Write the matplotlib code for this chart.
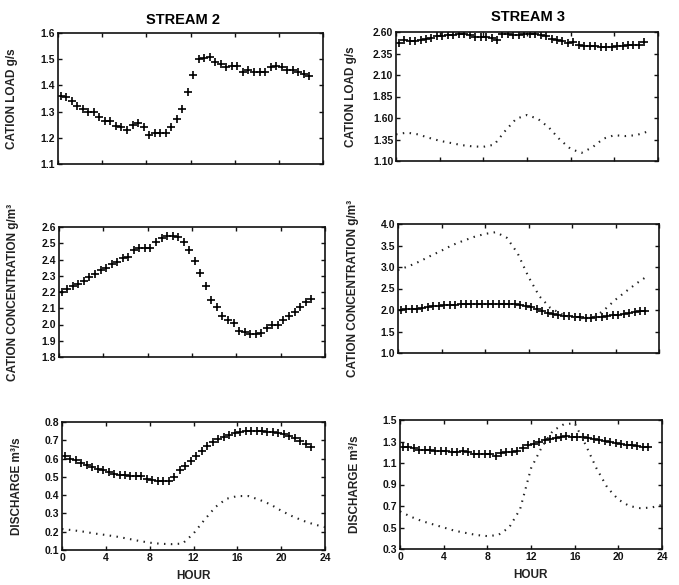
import numpy as np
import matplotlib
matplotlib.use("Agg")
import matplotlib.pyplot as plt

plt.rcParams['font.family'] = ['Liberation Sans', 'DejaVu Sans']

# half-hourly samples (+ markers) and hourly model curves (dotted)
hours = np.arange(0.25, 23, 0.5)
hours_day = np.arange(0, 24)
hours_full = np.arange(0, 25)

s2_load = [1.36, 1.355, 1.34, 1.32, 1.31, 1.30, 1.30, 1.28, 1.265, 1.265,
           1.245, 1.24, 1.23, 1.25, 1.255, 1.24, 1.21, 1.22, 1.22, 1.22,
           1.24, 1.27, 1.31, 1.375, 1.44, 1.50, 1.505, 1.51, 1.49, 1.48,
           1.47, 1.475, 1.475, 1.45, 1.46, 1.45, 1.45, 1.45, 1.47, 1.475,
           1.47, 1.46, 1.46, 1.45, 1.445, 1.435]

s2_conc = [2.20, 2.22, 2.235, 2.25, 2.27, 2.29, 2.31, 2.335, 2.35, 2.37,
           2.385, 2.41, 2.415, 2.457, 2.47, 2.47, 2.47, 2.51, 2.535, 2.545,
           2.545, 2.54, 2.51, 2.46, 2.39, 2.315, 2.24, 2.15, 2.11, 2.05,
           2.03, 2.01, 1.96, 1.955, 1.94, 1.94, 1.95, 1.98, 2.00, 2.00,
           2.025, 2.055, 2.08, 2.105, 2.14, 2.16]

s2_q = [0.613, 0.60, 0.59, 0.575, 0.565, 0.555, 0.545, 0.535, 0.525, 0.518,
        0.512, 0.508, 0.507, 0.507, 0.505, 0.49, 0.482, 0.48, 0.48, 0.48,
        0.50, 0.535, 0.56, 0.585, 0.615, 0.64, 0.668, 0.69, 0.705, 0.72,
        0.73, 0.74, 0.748, 0.75, 0.75, 0.75, 0.75, 0.745, 0.745, 0.74,
        0.735, 0.725, 0.71, 0.695, 0.68, 0.665]
s2_q_model = [0.215, 0.208, 0.20, 0.19, 0.182, 0.173, 0.162, 0.15, 0.14, 0.134,
              0.132, 0.135, 0.19, 0.265, 0.335, 0.38, 0.395, 0.395, 0.375, 0.35,
              0.315, 0.285, 0.26, 0.24, 0.225]

s3_load = [2.47, 2.51, 2.50, 2.50, 2.51, 2.52, 2.53, 2.55, 2.55, 2.56,
           2.57, 2.58, 2.58, 2.57, 2.54, 2.54, 2.54, 2.53, 2.51, 2.58,
           2.58, 2.57, 2.57, 2.58, 2.58, 2.58, 2.57, 2.55, 2.52, 2.51,
           2.49, 2.47, 2.48, 2.45, 2.44, 2.44, 2.44, 2.43, 2.43, 2.43,
           2.44, 2.44, 2.45, 2.45, 2.45, 2.48]
s3_load_model = [1.41, 1.43, 1.41, 1.37, 1.335, 1.31, 1.285, 1.27, 1.265, 1.29,
                 1.45, 1.59, 1.635, 1.59, 1.49, 1.35, 1.24, 1.195, 1.26, 1.36,
                 1.40, 1.39, 1.40, 1.44]

s3_conc = [2.00, 2.02, 2.02, 2.03, 2.04, 2.06, 2.09, 2.10, 2.11, 2.11,
           2.12, 2.13, 2.14, 2.14, 2.15, 2.15, 2.15, 2.15, 2.15, 2.15,
           2.14, 2.13, 2.11, 2.09, 2.06, 2.02, 1.98, 1.94, 1.91, 1.88,
           1.87, 1.86, 1.84, 1.83, 1.82, 1.82, 1.83, 1.84, 1.86, 1.88,
           1.89, 1.90, 1.92, 1.95, 1.97, 1.98]
s3_conc_model = [2.93, 3.02, 3.13, 3.26, 3.38, 3.51, 3.61, 3.70, 3.77, 3.81,
                 3.68, 3.32, 2.77, 2.32, 2.05, 1.91, 1.82, 1.81, 1.82, 2.01,
                 2.24, 2.44, 2.63, 2.80]

s3_q = [1.245, 1.25, 1.235, 1.225, 1.22, 1.22, 1.215, 1.21, 1.21, 1.205,
        1.20, 1.21, 1.20, 1.185, 1.185, 1.185, 1.18, 1.165, 1.195, 1.20,
        1.20, 1.21, 1.24, 1.265, 1.28, 1.295, 1.31, 1.325, 1.335, 1.345,
        1.35, 1.345, 1.345, 1.34, 1.335, 1.325, 1.315, 1.305, 1.30, 1.29,
        1.28, 1.27, 1.265, 1.26, 1.25, 1.25]
s3_q_model = [0.65, 0.60, 0.56, 0.53, 0.50, 0.47, 0.45, 0.43, 0.42, 0.43,
              0.50, 0.67, 1.05, 1.25, 1.40, 1.46, 1.47, 1.27, 1.05, 0.87,
              0.76, 0.70, 0.68, 0.685, 0.71]

fig = plt.figure(figsize=(6.79, 5.85), dpi=100)

W, H = 679.0, 585.0


def make_axes(l, r, t, b):
    return fig.add_axes([l / W, 1 - b / H, (r - l) / W, (b - t) / H])


ax_tl = make_axes(58, 323, 33, 164)
ax_tr = make_axes(396, 658, 32, 161)
ax_ml = make_axes(59, 325, 227, 357)
ax_mr = make_axes(398, 659, 224, 353)
ax_bl = make_axes(62, 325, 422, 550)
ax_br = make_axes(400, 662, 420, 549)

plus = dict(linestyle='none', marker='+', color='black', markersize=5.5, markeredgewidth=1.2)
dots = dict(color='#222222', linewidth=1.5, linestyle=(0, (0.7, 2.6)))

ax_tl.plot(hours, s2_load, **plus)
ax_ml.plot(hours, s2_conc, **plus)
ax_bl.plot(hours, s2_q, **plus)
ax_bl.plot(hours_full, s2_q_model, **dots)

ax_tr.plot(hours, s3_load, **plus)
ax_tr.plot(hours_day, s3_load_model, **dots)
ax_mr.plot(hours, s3_conc, **plus)
ax_mr.plot(hours_day, s3_conc_model, **dots)
ax_br.plot(hours, s3_q, **plus)
ax_br.plot(hours_full, s3_q_model, **dots)

ylims = {
    ax_tl: (1.1, 1.6, [1.1, 1.2, 1.3, 1.4, 1.5, 1.6], '%.1f'),
    ax_tr: (1.1, 2.6, [1.10, 1.35, 1.60, 1.85, 2.10, 2.35, 2.60], '%.2f'),
    ax_ml: (1.8, 2.6, [1.8, 1.9, 2.0, 2.1, 2.2, 2.3, 2.4, 2.5, 2.6], '%.1f'),
    ax_mr: (1.0, 4.0, [1.0, 1.5, 2.0, 2.5, 3.0, 3.5, 4.0], '%.1f'),
    ax_bl: (0.1, 0.8, [0.1, 0.2, 0.3, 0.4, 0.5, 0.6, 0.7, 0.8], '%.1f'),
    ax_br: (0.3, 1.5, [0.3, 0.5, 0.7, 0.9, 1.1, 1.3, 1.5], '%.1f'),
}

for ax, (lo, hi, ticks, fmt) in ylims.items():
    ax.set_xlim(0, 24)
    ax.set_ylim(lo, hi)
    ax.set_yticks(ticks)
    ax.set_yticklabels([fmt % v for v in ticks], fontweight='bold')
    ax.set_xticks([0, 4, 8, 12, 16, 20, 24])
    ax.set_xticklabels(['0', '4', '8', '12', '16', '20', '24'], fontweight='bold')
    ax.tick_params(direction='in', top=True, right=True, length=3, width=1,
                   labelsize=7.5, pad=2, colors='#111111')
    for s in ax.spines.values():
        s.set_linewidth(1.2)
        s.set_color('#111111')
    ax.yaxis.set_label_coords(-0.15, 0.5)

for ax in (ax_tl, ax_tr, ax_ml, ax_mr):
    ax.set_xticklabels([])

lab = dict(fontsize=8.5, fontweight='bold', color='#222222')

for ax in (ax_bl, ax_br):
    ax.set_xlabel('HOUR', labelpad=5, **lab)

ax_tl.set_ylabel('CATION LOAD g/s', **lab)
ax_tr.set_ylabel('CATION LOAD g/s', **lab)
ax_ml.set_ylabel('CATION CONCENTRATION g/m³', **lab)
ax_mr.set_ylabel('CATION CONCENTRATION g/m³', **lab)
ax_bl.set_ylabel('DISCHARGE m³/s', **lab)
ax_br.set_ylabel('DISCHARGE m³/s', **lab)

fig.text(183 / W, 1 - 20 / H, 'STREAM 2', ha='center', va='center', fontsize=10.5, fontweight='bold')
fig.text(528 / W, 1 - 17 / H, 'STREAM 3', ha='center', va='center', fontsize=10.5, fontweight='bold')

fig.savefig('out.png', dpi=100)
